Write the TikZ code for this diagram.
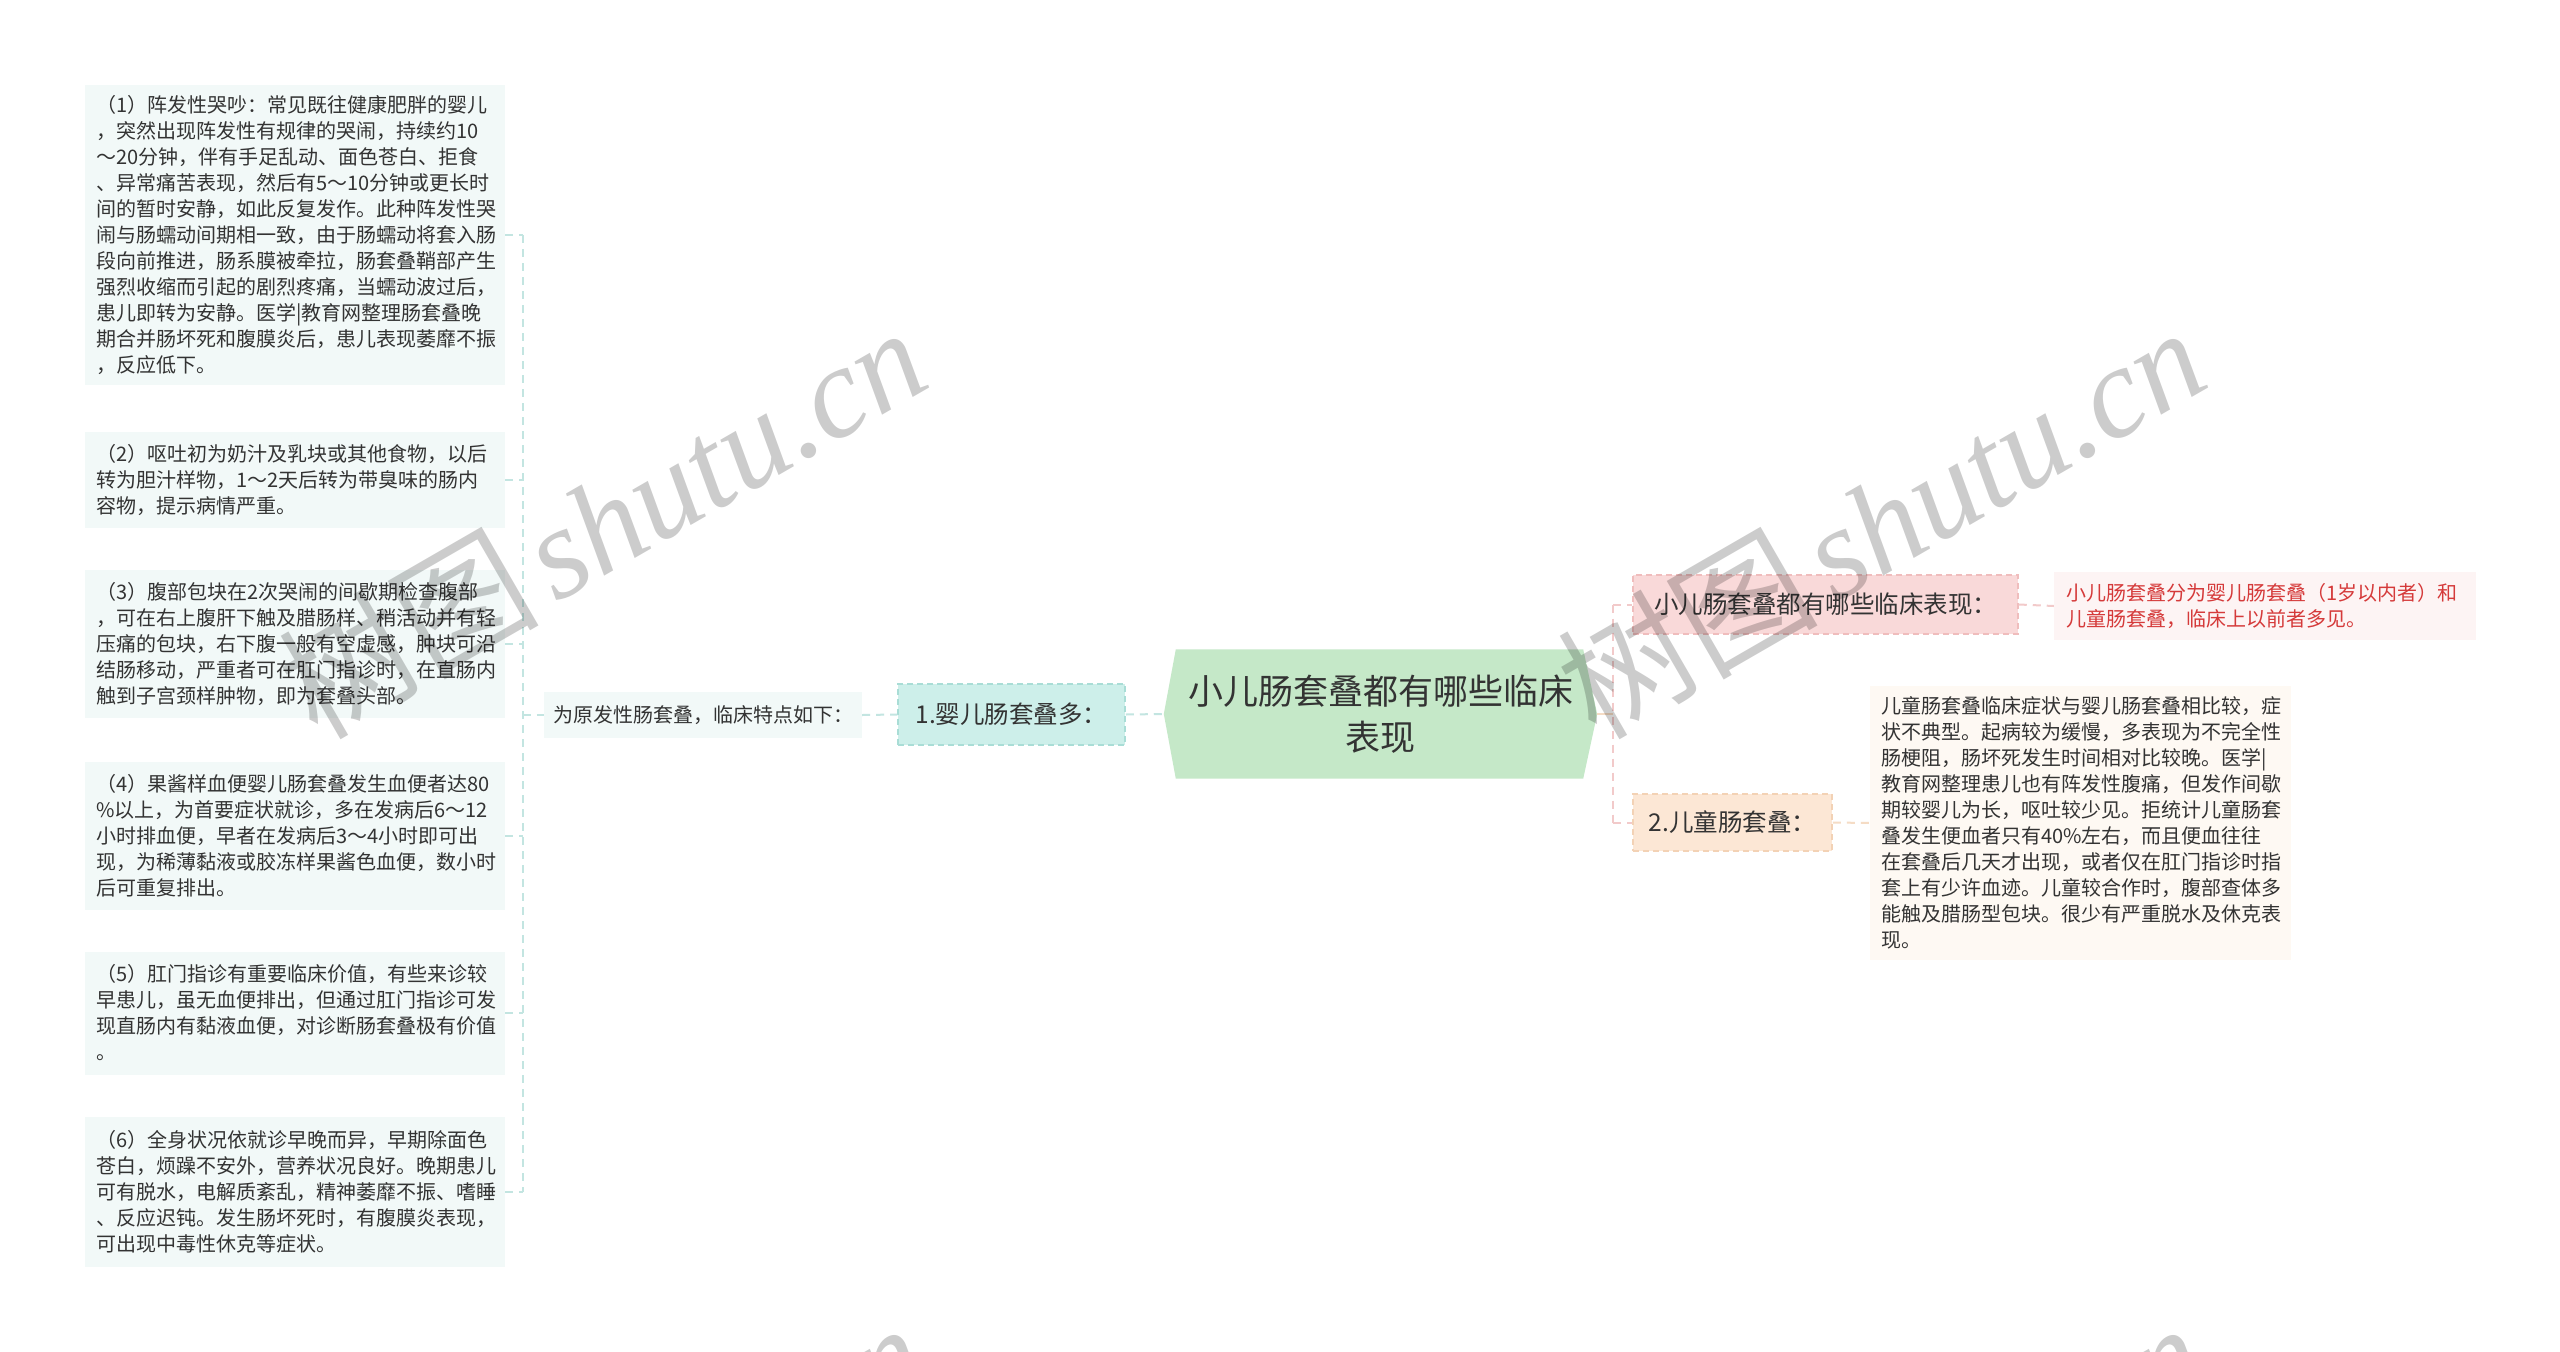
\documentclass[tikz,border=0pt]{standalone}
\usepackage{fontspec}
\newfontfamily\cjk{Noto Sans CJK SC}
\newfontfamily\wmserif{Liberation Serif}
\usetikzlibrary{calc,backgrounds}
\definecolor{txt}{HTML}{333333}
\definecolor{leafbg}{HTML}{F2F9F8}
\definecolor{cyanline}{HTML}{C3E5E1}
\definecolor{cyanfill}{HTML}{CDEFEA}
\definecolor{cyanborder}{HTML}{A9DDD6}
\definecolor{hexfill}{HTML}{C5E8C8}
\definecolor{pinkline}{HTML}{F2CACA}
\definecolor{pinkfill}{HTML}{F9D9D9}
\definecolor{pinkborder}{HTML}{F0BDBD}
\definecolor{pinkleaf}{HTML}{FDF4F4}
\definecolor{redtxt}{HTML}{D53A3A}
\definecolor{peachfill}{HTML}{FCE7D5}
\definecolor{peachborder}{HTML}{F3D2B5}
\definecolor{peachleaf}{HTML}{FEF9F3}
\definecolor{peachline}{HTML}{F5DCC5}
\tikzset{
  base/.style={text=txt, inner sep=0pt},
  leaf/.style={base, fill=leafbg, text width=398pt, align=left, inner xsep=11pt,
    minimum width=420pt, font={\cjk\fontsize{20pt}{26pt}\selectfont}},
  conn/.style={line width=2pt, dash pattern=on 8pt off 6pt},
  lconn/.style={conn, draw=cyanline},
  pconn/.style={conn, draw=pinkline},
  econn/.style={conn, draw=peachline},
  topic/.style={base, font={\cjk\fontsize{24.5pt}{30pt}\selectfont}, line width=1.5pt, dash pattern=on 6pt off 4pt},
  wm/.style={font={\wmserif\itshape\fontsize{130pt}{130pt}\selectfont}, text=black, text opacity=0.2, inner sep=0pt}
}
\begin{document}
\begin{tikzpicture}[x=1pt,y=-1pt]
\begin{scope}[on background layer]
\fill[white] (0,0) rectangle (2560,1352);
\end{scope}
\useasboundingbox (0,0) rectangle (2560,1352);

% left leaves
\node[leaf, minimum height=300pt] (L1) at (295,235) {（1）阵发性哭吵：常见既往健康肥胖的婴儿\\，突然出现阵发性有规律的哭闹，持续约10\\～20分钟，伴有手足乱动、面色苍白、拒食\\、异常痛苦表现，然后有5～10分钟或更长时\\间的暂时安静，如此反复发作。此种阵发性哭\\闹与肠蠕动间期相一致，由于肠蠕动将套入肠\\段向前推进，肠系膜被牵拉，肠套叠鞘部产生\\强烈收缩而引起的剧烈疼痛，当蠕动波过后，\\患儿即转为安静。医学|教育网整理肠套叠晚\\期合并肠坏死和腹膜炎后，患儿表现萎靡不振\\，反应低下。};
\node[leaf, minimum height=96pt] (L2) at (295,480) {（2）呕吐初为奶汁及乳块或其他食物，以后\\转为胆汁样物，1～2天后转为带臭味的肠内\\容物，提示病情严重。};
\node[leaf, minimum height=148pt] (L3) at (295,644) {（3）腹部包块在2次哭闹的间歇期检查腹部\\，可在右上腹肝下触及腊肠样、稍活动并有轻\\压痛的包块，右下腹一般有空虚感，肿块可沿\\结肠移动，严重者可在肛门指诊时，在直肠内\\触到子宫颈样肿物，即为套叠头部。};
\node[leaf, minimum height=148pt] (L4) at (295,836) {（4）果酱样血便婴儿肠套叠发生血便者达80\\\%以上，为首要症状就诊，多在发病后6～12\\小时排血便，早者在发病后3～4小时即可出\\现，为稀薄黏液或胶冻样果酱色血便，数小时\\后可重复排出。};
\node[leaf, minimum height=123pt] (L5) at (295,1013) {（5）肛门指诊有重要临床价值，有些来诊较\\早患儿，虽无血便排出，但通过肛门指诊可发\\现直肠内有黏液血便，对诊断肠套叠极有价值\\。};
\node[leaf, minimum height=150pt] (L6) at (295,1192) {（6）全身状况依就诊早晚而异，早期除面色\\苍白，烦躁不安外，营养状况良好。晚期患儿\\可有脱水，电解质紊乱，精神萎靡不振、嗜睡\\、反应迟钝。发生肠坏死时，有腹膜炎表现，\\可出现中毒性休克等症状。};

% middle-left
\node[base, fill=leafbg, font={\cjk\fontsize{20pt}{26pt}\selectfont}, minimum width=318pt, minimum height=46pt] (P) at (703,715) {为原发性肠套叠，临床特点如下：};
\node[topic, fill=cyanfill, draw=cyanborder, minimum width=227pt, minimum height=61pt] (C1) at (1011.5,714.5) {1.婴儿肠套叠多：};

% central topic
\node[base, font={\cjk\fontsize{35pt}{46pt}\selectfont}, align=center, minimum width=433pt, minimum height=129pt] (H) at (1380.5,714) {小儿肠套叠都有哪些临床\\表现};
\begin{scope}[on background layer]
\fill[hexfill] (H.west) -- ($(H.north west)+(12,0)$) -- ($(H.north east)+(-14,0)$) -- (H.east) -- ($(H.south east)+(-14,0)$) -- ($(H.south west)+(12,0)$) -- cycle;
\end{scope}

% right side
\node[topic, fill=pinkfill, draw=pinkborder, minimum width=385pt, minimum height=59pt] (R1) at (1825.5,604.5) {小儿肠套叠都有哪些临床表现：};
\node[base, fill=pinkleaf, text=redtxt, text width=398pt, align=left, inner xsep=12pt, minimum height=68pt, font={\cjk\fontsize{20pt}{26pt}\selectfont}] (R1T) at (2265,606) {小儿肠套叠分为婴儿肠套叠（1岁以内者）和\\儿童肠套叠，临床上以前者多见。};
\node[topic, fill=peachfill, draw=peachborder, minimum width=199pt, minimum height=57pt] (R2) at (1732.5,822.5) {2.儿童肠套叠：};
\node[leaf, fill=peachleaf, text width=399pt, minimum width=421pt, minimum height=274pt] (R2T) at (2080.5,823) {儿童肠套叠临床症状与婴儿肠套叠相比较，症\\状不典型。起病较为缓慢，多表现为不完全性\\肠梗阻，肠坏死发生时间相对比较晚。医学|\\教育网整理患儿也有阵发性腹痛，但发作间歇\\期较婴儿为长，呕吐较少见。拒统计儿童肠套\\叠发生便血者只有40\%左右，而且便血往往\\在套叠后几天才出现，或者仅在肛门指诊时指\\套上有少许血迹。儿童较合作时，腹部查体多\\能触及腊肠型包块。很少有严重脱水及休克表\\现。};

% connectors left
\coordinate (sp) at ($(P.west)+(-21,0)$);
\foreach \n in {L1,L2,L3,L4,L5,L6} \draw[lconn] (\n.east) -- (\n.east -| sp);
\draw[lconn] (L1.east -| sp) -- (L6.east -| sp);
\draw[lconn] (sp) -- (P.west);
\draw[lconn] (P.east) -- (C1.west);
\draw[lconn] (C1.east) -- (H.west);

% connectors right
\coordinate (rsp) at ($(H.east)+(16,0)$);
\draw[line width=2pt, draw=peachline] (H.east) -- (rsp);
\draw[pconn] (R1.west -| rsp) -- (R2.west -| rsp);
\draw[pconn] (R1.west -| rsp) -- (R1.west);
\draw[pconn] (R2.west -| rsp) -- (R2.west);
\draw[pconn] (R1.east) -- (R1T.west);
\draw[econn] (R2.east) -- (R2T.west);

% watermarks
\begin{scope}
\clip (0,0) rectangle (2560,1352);
\foreach \dx/\dy [count=\i] in {0/0,1279/0,0/996,1279/996}
  \node[wm, anchor=base east, rotate=30] (wm\i) at ({935+\dx},{385+\dy}) {{\cjk\upshape 树图}\hspace{0.12em}shutu.cn};
\end{scope}
\end{tikzpicture}
\end{document}
